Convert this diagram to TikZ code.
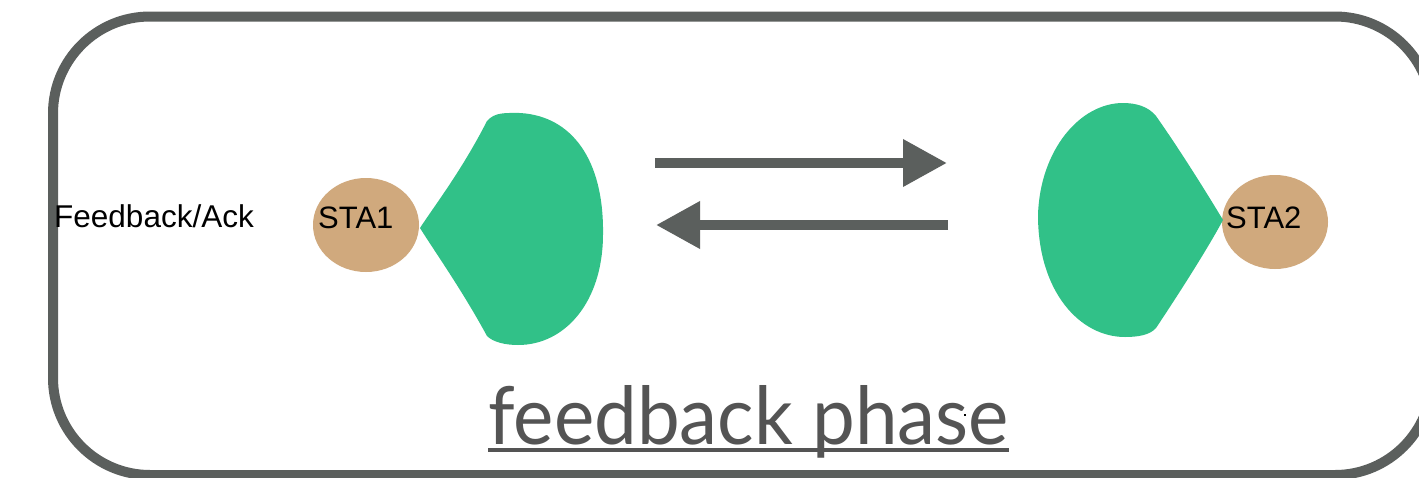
\documentclass[tikz,border=0pt]{standalone}
\usepackage{fontspec}
\setmainfont{Liberation Sans}
\newfontfamily\titlefont{Lato}
\usetikzlibrary{arrows.meta,shapes.geometric}
\definecolor{framegrey}{HTML}{5B5F5D}
\definecolor{titlegrey}{HTML}{545454}
\definecolor{leafgreen}{HTML}{31C188}
\definecolor{statan}{HTML}{D0A97D}
\tikzset{
  frame/.style={draw=framegrey, line width=10pt, rounded corners=97pt},
  stanode/.style={ellipse, fill=statan, draw=none, minimum width=106pt, minimum height=94pt, inner sep=0pt},
  lobe/.style={fill=leafgreen, draw=none},
  labeltext/.style={inner sep=0pt, anchor=base west, font=\fontsize{31}{36}\selectfont, text=black},
  bigarrow/.style={draw=framegrey, line width=10pt, -{Triangle[length=44pt,width=45pt]}},
}
\begin{document}
\begin{tikzpicture}[x=1pt,y=-1pt]
\useasboundingbox (0,0) rectangle (1419,477);
\clip (0,0) rectangle (1419,477);
\fill[white] (0,0) rectangle (1419,477);
% frame
\draw[frame] (53,16.5) rectangle (1432,475);
% stations
\node[stanode] (sta1) at (366,225) {};
\node[stanode] (sta2) at (1275,222) {};
% green lobes
\fill[lobe] (420,228) .. controls (435,205) and (462,170) .. (487,121)
  .. controls (495,112) and (505,113) .. (520,113)
  .. controls (572,116) and (604,160) .. (603,234)
  .. controls (603,302) and (565,345) .. (518,345)
  .. controls (505,345) and (493,342) .. (487,336)
  .. controls (462,290) and (435,252) .. (420,228) -- cycle;
\fill[lobe] (1223,220) .. controls (1208,195) and (1180,150) .. (1156,116)
  .. controls (1148,106) and (1135,103) .. (1123,103)
  .. controls (1080,103) and (1040,150) .. (1038,215)
  .. controls (1038,292) and (1080,337) .. (1125,337)
  .. controls (1138,337) and (1150,335) .. (1156,328)
  .. controls (1180,292) and (1208,248) .. (1223,220) -- cycle;
% labels
\node[labeltext] (sta1t) at (318,228) {STA1};
\node[labeltext] (sta2t) at (1226,228) {STA2};
\node[labeltext, font=\fontsize{31.5}{36}\selectfont] (fbt) at (54,227) {Feedback/Ack};
% arrows
\coordinate (a1s) at (655,163);
\coordinate (a1e) at (947,163);
\coordinate (a2s) at (948,225);
\coordinate (a2e) at (656,225);
\draw[bigarrow] (a1s) -- (a1e);
\draw[bigarrow] (a2s) -- (a2e);
% title
\node[inner sep=0pt, anchor=base west, text=titlegrey] (title) at (488,444)
  {\resizebox{521pt}{59pt}{\titlefont feedback phase}};
\coordinate (ul1) at (488,450);
\coordinate (ul2) at (1009,450);
\draw[titlegrey, line width=3.5pt] (ul1) -- (ul2);
\fill[black] (964,414) rectangle (966,416);
\end{tikzpicture}
\end{document}
